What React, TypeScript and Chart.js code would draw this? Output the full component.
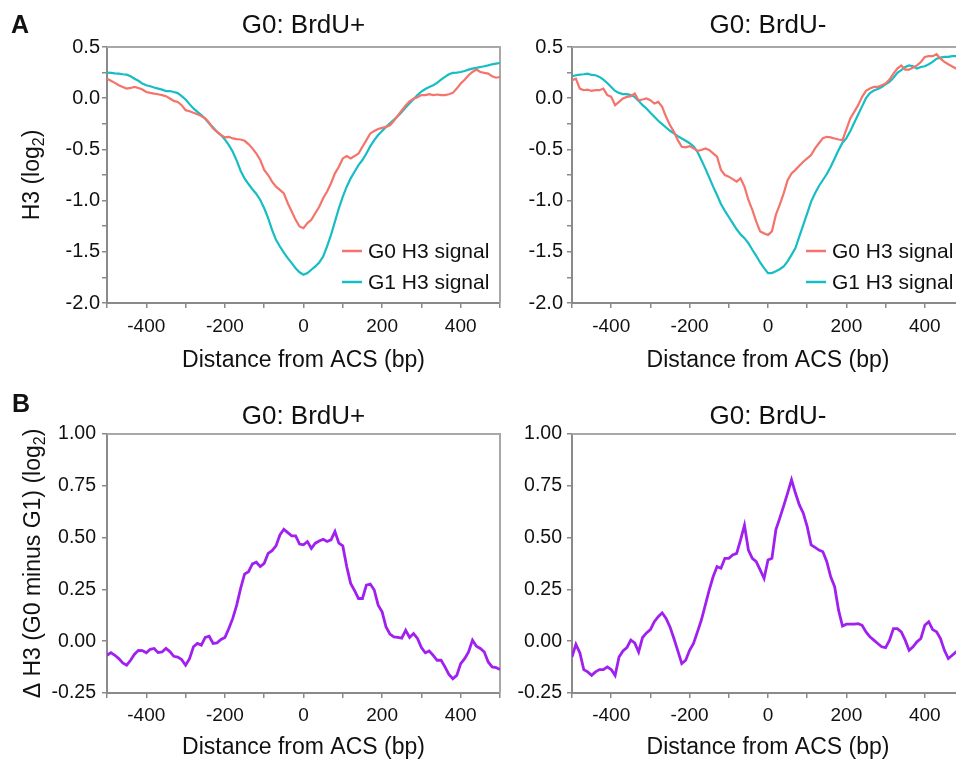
import React, { useEffect, useRef } from "react";
import { Chart, registerables } from "chart.js";

Chart.register(...registerables);

const FONT = "'Liberation Sans', Arial, Helvetica, sans-serif";

// Distance from ACS (bp), one sample every 10 bp
const DISTANCE_BP = [
  -500, -490, -480, -470, -460, -450, -440, -430, -420, -410,
  -400, -390, -380, -370, -360, -350, -340, -330, -320, -310,
  -300, -290, -280, -270, -260, -250, -240, -230, -220, -210,
  -200, -190, -180, -170, -160, -150, -140, -130, -120, -110,
  -100, -90, -80, -70, -60, -50, -40, -30, -20, -10,
  0, 10, 20, 30, 40, 50, 60, 70, 80, 90,
  100, 110, 120, 130, 140, 150, 160, 170, 180, 190,
  200, 210, 220, 230, 240, 250, 260, 270, 280, 290,
  300, 310, 320, 330, 340, 350, 360, 370, 380, 390,
  400, 410, 420, 430, 440, 450, 460, 470, 480, 490,
  500,
];

// Panel A, G0: BrdU+
const BRDU_POS_G0_H3 = [
  0.19, 0.17, 0.15, 0.127, 0.11, 0.094, 0.1, 0.11, 0.1, 0.084,
  0.06, 0.052, 0.045, 0.039, 0.03, 0.02, -0.003, -0.026, -0.036, -0.068,
  -0.117, -0.127, -0.143, -0.156, -0.175, -0.198, -0.24, -0.296, -0.328, -0.36,
  -0.383, -0.377, -0.393, -0.4, -0.403, -0.416, -0.448, -0.49, -0.54, -0.604,
  -0.7, -0.75, -0.815, -0.864, -0.896, -0.93, -1.026, -1.107, -1.188, -1.253,
  -1.27, -1.22, -1.188, -1.124, -1.06, -0.977, -0.912, -0.83, -0.734, -0.669,
  -0.588, -0.565, -0.588, -0.565, -0.54, -0.474, -0.41, -0.344, -0.32, -0.3,
  -0.29, -0.28, -0.265, -0.22, -0.17, -0.12, -0.07, -0.03, -0.005, 0.01,
  0.03, 0.03, 0.039, 0.03, 0.036, 0.03, 0.03, 0.039, 0.052, 0.094,
  0.143, 0.18, 0.224, 0.256, 0.279, 0.256, 0.247, 0.24, 0.214, 0.2,
  0.207,
];
const BRDU_POS_G1_H3 = [
  0.25, 0.247, 0.243, 0.24, 0.234, 0.23, 0.214, 0.19, 0.17, 0.143,
  0.127, 0.117, 0.104, 0.094, 0.084, 0.07, 0.07, 0.06, 0.05, 0.02,
  -0.013, -0.058, -0.1, -0.133, -0.166, -0.2, -0.247, -0.286, -0.328, -0.36,
  -0.403, -0.458, -0.523, -0.61, -0.708, -0.783, -0.838, -0.89, -0.935, -0.994,
  -1.075, -1.172, -1.286, -1.383, -1.448, -1.507, -1.562, -1.61, -1.66, -1.7,
  -1.724, -1.708, -1.675, -1.643, -1.604, -1.546, -1.448, -1.335, -1.205, -1.075,
  -0.961, -0.864, -0.783, -0.718, -0.653, -0.604, -0.54, -0.468, -0.41, -0.36,
  -0.32, -0.28, -0.245, -0.21, -0.175, -0.135, -0.09, -0.05, -0.01, 0.03,
  0.065, 0.09, 0.11, 0.127, 0.149, 0.182, 0.208, 0.234, 0.247, 0.25,
  0.256, 0.266, 0.279, 0.289, 0.296, 0.305, 0.312, 0.32, 0.331, 0.338,
  0.344,
];

// Panel A, G0: BrdU-
const BRDU_NEG_G0_H3 = [
  0.175, 0.19, 0.094, 0.078, 0.084, 0.071, 0.078, 0.078, 0.094, 0.03,
  0.013, -0.068, -0.036, -0.003, 0.013, 0.02, 0.045, -0.02, -0.013, -0.003,
  -0.02, -0.052, -0.036, -0.084, -0.182, -0.263, -0.328, -0.41, -0.474, -0.48,
  -0.468, -0.49, -0.513, -0.506, -0.49, -0.506, -0.539, -0.57, -0.7, -0.75,
  -0.766, -0.79, -0.815, -0.783, -0.864, -0.994, -1.09, -1.205, -1.302, -1.32,
  -1.335, -1.3, -1.14, -1.04, -0.93, -0.8, -0.734, -0.7, -0.66, -0.62,
  -0.588, -0.555, -0.49, -0.44, -0.39, -0.377, -0.383, -0.393, -0.403, -0.41,
  -0.305, -0.198, -0.133, -0.068, 0.013, 0.071, 0.094, 0.11, 0.11, 0.127,
  0.143, 0.182, 0.24, 0.289, 0.32, 0.279, 0.279, 0.299, 0.32, 0.354,
  0.403, 0.41, 0.41, 0.43, 0.386, 0.354, 0.331, 0.31, 0.29, 0.3,
  0.31,
];
const BRDU_NEG_G1_H3 = [
  0.214, 0.224, 0.23, 0.234, 0.24, 0.227, 0.224, 0.208, 0.182, 0.149,
  0.11, 0.071, 0.052, 0.039, 0.039, 0.03, 0.013, -0.026, -0.068, -0.1,
  -0.143, -0.182, -0.22, -0.253, -0.286, -0.318, -0.344, -0.37, -0.393, -0.416,
  -0.44, -0.47, -0.523, -0.604, -0.685, -0.773, -0.864, -0.945, -1.033, -1.1,
  -1.16, -1.22, -1.28, -1.33, -1.367, -1.416, -1.48, -1.539, -1.604, -1.66,
  -1.708, -1.708, -1.69, -1.67, -1.643, -1.594, -1.53, -1.464, -1.35, -1.237,
  -1.124, -1.01, -0.929, -0.857, -0.799, -0.74, -0.669, -0.588, -0.507, -0.435,
  -0.39, -0.32, -0.24, -0.16, -0.08, 0.0, 0.05, 0.075, 0.09, 0.11,
  0.136, 0.159, 0.2, 0.247, 0.273, 0.305, 0.32, 0.312, 0.289, 0.305,
  0.312, 0.331, 0.354, 0.386, 0.396, 0.403, 0.403, 0.41, 0.41, 0.41,
  0.41,
];

// Panel B, delta H3 (G0 minus G1)
const DELTA_BRDU_POS = [
  -0.068, -0.055, -0.068, -0.084, -0.105, -0.116, -0.092, -0.063, -0.044, -0.045,
  -0.056, -0.039, -0.035, -0.055, -0.052, -0.035, -0.05, -0.073, -0.077, -0.089,
  -0.116, -0.084, -0.027, -0.011, -0.019, 0.018, 0.024, -0.011, -0.008, 0.008,
  0.018, 0.061, 0.11, 0.174, 0.255, 0.324, 0.335, 0.373, 0.381, 0.36,
  0.376, 0.424, 0.437, 0.46, 0.513, 0.54, 0.524, 0.508, 0.508, 0.469,
  0.465, 0.481, 0.448, 0.473, 0.484, 0.492, 0.481, 0.489, 0.529, 0.473,
  0.46, 0.36, 0.279, 0.244, 0.206, 0.206, 0.271, 0.276, 0.247, 0.174,
  0.142, 0.069, 0.034, 0.021, 0.018, 0.015, 0.053, 0.018, 0.037, 0.013,
  -0.031, -0.056, -0.047, -0.068, -0.092, -0.092, -0.124, -0.16, -0.181, -0.165,
  -0.108, -0.084, -0.052, 0.005, -0.024, -0.035, -0.052, -0.1, -0.124, -0.127,
  -0.137,
];
const DELTA_BRDU_NEG = [
  -0.076, -0.015, -0.056, -0.137, -0.148, -0.165, -0.148, -0.137, -0.137, -0.124,
  -0.137, -0.165, -0.076, -0.047, -0.031, 0.005, -0.008, -0.052, 0.018, 0.04,
  0.056, 0.094, 0.118, 0.137, 0.11, 0.069, 0.013, -0.047, -0.108, -0.092,
  -0.044, -0.011, 0.045, 0.102, 0.174, 0.247, 0.311, 0.36, 0.352, 0.4,
  0.4, 0.416, 0.424, 0.489, 0.56, 0.44, 0.4, 0.384, 0.344, 0.303,
  0.392, 0.4, 0.537, 0.594, 0.653, 0.715, 0.779, 0.715, 0.658, 0.618,
  0.553, 0.465, 0.453, 0.44, 0.432, 0.384, 0.311, 0.263, 0.15, 0.073,
  0.082, 0.082, 0.082, 0.085, 0.077, 0.045, 0.021, 0.005, -0.011, -0.027,
  -0.031, 0.005, 0.061, 0.061, 0.045, 0.005, -0.044, -0.027, -0.003, 0.013,
  0.077, 0.094, 0.056, 0.045, 0.013, -0.044, -0.084, -0.068, -0.052, -0.06,
  -0.06,
];

const X_TICK_LABELS = ["-400", "-200", "0", "200", "400"];
const H3_TICK_LABELS = ["0.5", "0.0", "-0.5", "-1.0", "-1.5", "-2.0"];
const DELTA_TICK_LABELS = ["1.00", "0.75", "0.50", "0.25", "0.00", "-0.25"];
const LEGEND_LABELS = ["G0 H3 signal", "G1 H3 signal"];

const RED = "#F4736B";
const CYAN = "#17BDC4";
const PURPLE = "#A020F0";
const AXIS = "#8a8a8a";
const FRAME = "#a8a8a8";
const TEXT = "#111111";

type Part = { t: string; sub?: boolean };

type PanelDef = {
  key: string;
  left: number;
  top: number;
  w: number;
  h: number;
  area: { l: number; r: number; t: number; b: number };
  title: string;
  titleBase: number;
  xTitleBase: number;
  yTitle?: Part[];
  yTitleX?: number;
  corner?: { text: string; x: number; y: number };
  legend?: boolean;
  series: { label: string; data: number[]; color: string; width: number }[];
  yMin: number;
  yMax: number;
  yLabels: string[];
  yDigits: number;
  yPad: number;
  yFont: number;
  xPad: number;
};

const PANELS: PanelDef[] = [
  {
    key: "a1", left: 0, top: 0, w: 520, h: 380,
    area: { l: 107, r: 500, t: 47, b: 303 },
    title: "G0: BrdU+", titleBase: 33, xTitleBase: 367,
    yTitle: [{ t: "H3 (log" }, { t: "2", sub: true }, { t: ")" }], yTitleX: 39,
    corner: { text: "A", x: 11, y: 33 },
    legend: true,
    series: [
      { label: LEGEND_LABELS[0], data: BRDU_POS_G0_H3, color: RED, width: 2.2 },
      { label: LEGEND_LABELS[1], data: BRDU_POS_G1_H3, color: CYAN, width: 2.2 },
    ],
    yMin: -2, yMax: 0.5, yLabels: H3_TICK_LABELS, yDigits: 1, yPad: 2, yFont: 20, xPad: 7,
  },
  {
    key: "a2", left: 500, top: 0, w: 480, h: 380,
    area: { l: 572, r: 964, t: 47, b: 303 },
    title: "G0: BrdU-", titleBase: 33, xTitleBase: 367,
    legend: true,
    series: [
      { label: LEGEND_LABELS[0], data: BRDU_NEG_G0_H3, color: RED, width: 2.2 },
      { label: LEGEND_LABELS[1], data: BRDU_NEG_G1_H3, color: CYAN, width: 2.2 },
    ],
    yMin: -2, yMax: 0.5, yLabels: H3_TICK_LABELS, yDigits: 1, yPad: 4, yFont: 20, xPad: 7,
  },
  {
    key: "b1", left: 0, top: 380, w: 520, h: 379,
    area: { l: 107, r: 500, t: 434, b: 693 },
    title: "G0: BrdU+", titleBase: 424, xTitleBase: 754,
    yTitle: [{ t: "\u0394 H3 (G0 minus G1) (log" }, { t: "2", sub: true }, { t: ")" }], yTitleX: 40,
    corner: { text: "B", x: 12, y: 412 },
    series: [{ label: "G0 minus G1", data: DELTA_BRDU_POS, color: PURPLE, width: 2.8 }],
    yMin: -0.25, yMax: 1, yLabels: DELTA_TICK_LABELS, yDigits: 2, yPad: 6, yFont: 19.5, xPad: 6,
  },
  {
    key: "b2", left: 500, top: 380, w: 480, h: 379,
    area: { l: 572, r: 964, t: 434, b: 693 },
    title: "G0: BrdU-", titleBase: 424, xTitleBase: 754,
    series: [{ label: "G0 minus G1", data: DELTA_BRDU_NEG, color: PURPLE, width: 2.8 }],
    yMin: -0.25, yMax: 1, yLabels: DELTA_TICK_LABELS, yDigits: 2, yPad: 5, yFont: 19.5, xPad: 6,
  },
];

const X_H = 60;

function drawRich(ctx: CanvasRenderingContext2D, parts: Part[], size: number, cx: number, base: number) {
  const subSize = Math.round(size * 0.68);
  const widths = parts.map((p) => {
    ctx.font = `${p.sub ? subSize : size}px ${FONT}`;
    return ctx.measureText(p.t).width;
  });
  const total = widths.reduce((a, b) => a + b, 0);
  let x = cx - total / 2;
  parts.forEach((p, i) => {
    ctx.font = `${p.sub ? subSize : size}px ${FONT}`;
    ctx.fillText(p.t, x, p.sub ? base + size * 0.22 : base);
    x += widths[i];
  });
}

function makeDecor(p: PanelDef) {
  return {
    id: "decor_" + p.key,
    beforeDatasetsDraw(chart: any) {
      const { ctx, chartArea: a } = chart;
      ctx.save();
      ctx.strokeStyle = FRAME;
      ctx.lineWidth = 2;
      ctx.beginPath();
      ctx.moveTo(a.left, a.top);
      ctx.lineTo(a.right, a.top);
      ctx.lineTo(a.right, a.bottom);
      ctx.stroke();
      ctx.restore();
    },
    afterDraw(chart: any) {
      const { ctx, chartArea: a } = chart;
      const oy = p.top;
      const ox = p.left;
      ctx.save();
      ctx.fillStyle = TEXT;
      ctx.textBaseline = "alphabetic";
      // panel title
      ctx.textAlign = "center";
      ctx.font = `26px ${FONT}`;
      ctx.fillText(p.title, (a.left + a.right) / 2, p.titleBase - oy);
      // x axis title
      ctx.font = `23px ${FONT}`;
      ctx.fillText("Distance from ACS (bp)", (a.left + a.right) / 2, p.xTitleBase - oy);
      // y axis title
      if (p.yTitle) {
        ctx.save();
        ctx.translate((p.yTitleX as number) - ox, (a.top + a.bottom) / 2);
        ctx.rotate(-Math.PI / 2);
        ctx.textAlign = "left";
        drawRich(ctx, p.yTitle, 23, 0, 0);
        ctx.restore();
      }
      // corner label
      if (p.corner) {
        ctx.textAlign = "left";
        ctx.font = `bold 25px ${FONT}`;
        ctx.fillText(p.corner.text, p.corner.x - ox, p.corner.y - oy);
      }
      // legend
      if (p.legend) {
        ctx.textAlign = "left";
        ctx.font = `21px ${FONT}`;
        p.series.forEach((s, i) => {
          const base = a.top + 211 + i * 31;
          ctx.strokeStyle = s.color;
          ctx.lineWidth = 2.5;
          ctx.beginPath();
          ctx.moveTo(a.right - 158, base - 7);
          ctx.lineTo(a.right - 138, base - 7);
          ctx.stroke();
          ctx.fillText(s.label, a.right - 132, base);
        });
      }
      ctx.restore();
    },
  };
}

function PanelChart({ p }: { p: PanelDef }) {
  const ref = useRef<HTMLCanvasElement | null>(null);
  useEffect(() => {
    const canvas = ref.current;
    if (!canvas) return;
    const yW = p.area.l - p.left;
    const padTop = p.area.t - p.top;
    const padRight = p.left + p.w - p.area.r;
    const padBottom = p.top + p.h - p.area.b - X_H;
    const chart = new Chart(canvas, {
      type: "line",
      data: {
        datasets: p.series.map((s) => ({
          label: s.label,
          data: DISTANCE_BP.map((x, i) => ({ x, y: s.data[i] })),
          borderColor: s.color,
          backgroundColor: s.color,
          borderWidth: s.width,
          pointRadius: 0,
          tension: 0,
          fill: false,
        })),
      },
      options: {
        responsive: false,
        maintainAspectRatio: false,
        animation: false,
        devicePixelRatio: 1,
        layout: { padding: { left: 0, top: padTop, right: padRight, bottom: padBottom } },
        plugins: {
          legend: { display: false },
          tooltip: { enabled: false },
          title: { display: false },
        },
        events: [],
        scales: {
          x: {
            type: "linear",
            min: -500,
            max: 500,
            afterFit: (s: any) => {
              s.height = X_H;
            },
            ticks: {
              stepSize: 100,
              autoSkip: false,
              maxRotation: 0,
              minRotation: 0,
              padding: p.xPad,
              color: TEXT,
              font: { family: FONT, size: 19 },
              callback: (v: any) => {
                const s = String(Math.round(Number(v)));
                return X_TICK_LABELS.includes(s) ? s : "";
              },
            },
            grid: { drawOnChartArea: false, drawTicks: true, tickLength: 5, color: AXIS, lineWidth: 1.5 },
            border: { display: true, color: AXIS, width: 2 },
          },
          y: {
            type: "linear",
            min: p.yMin,
            max: p.yMax,
            afterFit: (s: any) => {
              s.width = yW;
            },
            ticks: {
              stepSize: 0.25,
              autoSkip: false,
              padding: p.yPad,
              color: TEXT,
              font: { family: FONT, size: p.yFont },
              callback: (v: any) => {
                const n = Number(v);
                const s = (Math.abs(n) < 1e-9 ? 0 : n).toFixed(p.yDigits);
                return p.yLabels.includes(s) ? s : "";
              },
            },
            grid: { drawOnChartArea: false, drawTicks: true, tickLength: 5, color: AXIS, lineWidth: 1.5 },
            border: { display: true, color: AXIS, width: 2 },
          },
        },
      },
      plugins: [makeDecor(p)],
    } as any);
    return () => chart.destroy();
  }, [p]);
  return (
    <canvas
      ref={ref}
      width={p.w}
      height={p.h}
      style={{ position: "absolute", left: p.left, top: p.top, width: p.w, height: p.h }}
    />
  );
}

export default function App() {
  return (
    <div
      style={{
        position: "fixed",
        left: 0,
        top: 0,
        width: 956,
        height: 759,
        overflow: "hidden",
        background: "#ffffff",
      }}
    >
      {PANELS.map((p) => (
        <PanelChart key={p.key} p={p} />
      ))}
    </div>
  );
}
